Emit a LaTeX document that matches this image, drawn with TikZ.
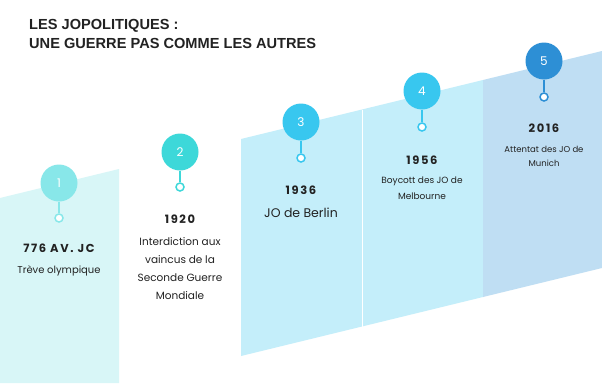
\documentclass[tikz,border=0pt]{standalone}
\usepackage{fontspec}
\setmainfont{Poppins}
\newfontfamily\titlefont{Liberation Sans}
\newfontfamily\yearfont[LetterSpace=14]{Poppins}
\definecolor{panA}{HTML}{D8F6F7}
\definecolor{panB}{HTML}{C4EEFA}
\definecolor{panC}{HTML}{BFDEF3}
\definecolor{cirA}{HTML}{88E7E9}
\definecolor{cirB}{HTML}{3DD8D9}
\definecolor{cirC}{HTML}{38C7EF}
\definecolor{cirD}{HTML}{2D8FD5}
\definecolor{txt}{HTML}{222222}
\tikzset{
  bubble/.style={circle, fill=#1, minimum size=37pt, inner sep=0pt, text=white,
    font=\fontsize{12}{12}\selectfont},
  ring/.style={circle, draw=#1, fill=white, line width=1.5pt, minimum size=8pt, inner sep=0pt},
  stem/.style={draw=#1, line width=2pt},
  year/.style={anchor=base, text=txt, font=\yearfont\bfseries\fontsize{11.5}{12}\selectfont},
  body/.style={anchor=base, text=txt, font=\fontsize{#1}{#1}\selectfont},
  titletext/.style={anchor=base west, inner sep=0pt, text=txt,
    font=\titlefont\bfseries\fontsize{14.6}{15}\selectfont},
}
\begin{document}
\begin{tikzpicture}[x=1pt,y=-1pt]
\useasboundingbox (0,0) rectangle (602,383);
\fill[white] (0,0) rectangle (602,383);
% panels
\fill[panA] (0,198) -- (119,169) -- (119,383) -- (0,383) -- cycle;
\fill[panB] (241,139) -- (483,80) -- (483,297) -- (241,356) -- cycle;
\fill[panC] (483,80) -- (602,51) -- (602,268) -- (483,297) -- cycle;
\draw[white, line width=1pt] (362,109.5) -- (362,326.5);
% title
\node[titletext] (t1) at (29,29) {LES JOPOLITIQUES :};
\node[titletext] (t2) at (29,48) {UNE GUERRE PAS COMME LES AUTRES};
% markers
\node[bubble=cirA] (c1) at (59,183) {1};
\node[ring=cirA] (r1) at (59,218) {};
\draw[stem=cirA] (c1) -- (r1);
\node[bubble=cirB] (c2) at (180,152) {2};
\node[ring=cirB] (r2) at (180,187) {};
\draw[stem=cirB] (c2) -- (r2);
\node[bubble=cirC] (c3) at (301,122) {3};
\node[ring=cirC] (r3) at (301,158) {};
\draw[stem=cirC] (c3) -- (r3);
\node[bubble=cirC] (c4) at (422,91) {4};
\node[ring=cirC] (r4) at (422,127) {};
\draw[stem=cirC] (c4) -- (r4);
\node[bubble=cirD] (c5) at (544,61) {5};
\node[ring=cirD] (r5) at (544,97) {};
\draw[stem=cirD] (c5) -- (r5);
% texts
\node[year] (y1) at (59,252) {776 AV. JC};
\node[body=10] (d1) at (59,273) {Trève olympique};
\node[year] (y2) at (180,223) {1920};
\node[body=10.5] (d2a) at (180,245) {Interdiction aux};
\node[body=10.5] (d2b) at (180,263) {vaincus de la};
\node[body=10.5] (d2c) at (180,281) {Seconde Guerre};
\node[body=10.5] (d2d) at (180,299) {Mondiale};
\node[year] (y3) at (301,194) {1936};
\node[body=12.5] (d3) at (301,217) {JO de Berlin};
\node[year] (y4) at (422,164) {1956};
\node[body=9] (d4a) at (422,183) {Boycott des JO de};
\node[body=9] (d4b) at (422,199) {Melbourne};
\node[year] (y5) at (544,132) {2016};
\node[body=8.5] (d5a) at (544,152) {Attentat des JO de};
\node[body=8.5] (d5b) at (544,166) {Munich};
\end{tikzpicture}
\end{document}
